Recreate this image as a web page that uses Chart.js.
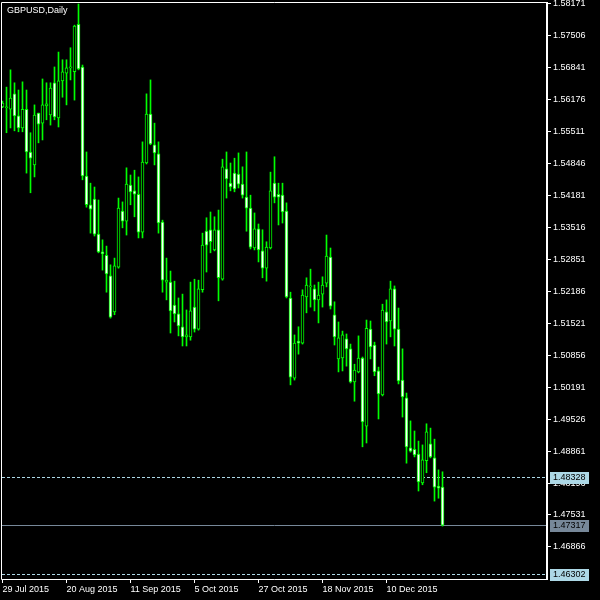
<!DOCTYPE html>
<html>
<head>
<meta charset="utf-8">
<title>GBPUSD,Daily</title>
<script src="https://cdn.jsdelivr.net/npm/chart.js@4.4.1/dist/chart.umd.min.js"></script>
<style>
  html, body { margin: 0; padding: 0; background: #000; }
  #wrap { width: 600px; height: 600px; }
</style>
</head>
<body>
<div id="wrap"><canvas id="chart" width="600" height="600"></canvas></div>
<script>
// GBPUSD daily candles, 29 Jul 2015 -> end of Dec 2015
const opens = [
  1.5603, 1.5601, 1.5598, 1.5630, 1.5584, 1.5559, 1.5598, 1.5509, 1.5482, 1.5590,
  1.5569, 1.5605, 1.5586, 1.5653, 1.5580, 1.5657, 1.5673, 1.5684, 1.5676, 1.5775,
  1.5686, 1.5459, 1.5399, 1.5411, 1.5338, 1.5301, 1.5294, 1.5251, 1.5176, 1.5269,
  1.5386, 1.5365, 1.5440, 1.5428, 1.5421, 1.5342, 1.5486, 1.5588, 1.5524, 1.5505,
  1.5363, 1.5238, 1.5238, 1.5190, 1.5172, 1.5145, 1.5124, 1.5124, 1.5186, 1.5140,
  1.5222, 1.5344, 1.5347, 1.5305, 1.5347, 1.5244, 1.5474, 1.5444, 1.5465, 1.5463,
  1.5442, 1.5415, 1.5392, 1.5309, 1.5349, 1.5303, 1.5267, 1.5309, 1.5444, 1.5421,
  1.5419, 1.5386, 1.5205, 1.5038, 1.5115, 1.5111, 1.5207, 1.5228, 1.5224, 1.5201,
  1.5213, 1.5236, 1.5290, 1.5170, 1.5078, 1.5080, 1.5120, 1.5099, 1.5030, 1.5051,
  1.5080, 1.4938, 1.5140, 1.5107, 1.5053, 1.5003, 1.5176, 1.5157, 1.5224, 1.5140,
  1.5034, 1.4997, 1.4893, 1.4890, 1.4880, 1.4820, 1.4866, 1.4901, 1.4872, 1.4813,
  1.4811
];
const highs = [
  1.5615, 1.5644, 1.5680, 1.5653, 1.5638, 1.5655, 1.5638, 1.5549, 1.5607, 1.5590,
  1.5661, 1.5653, 1.5653, 1.5686, 1.5717, 1.5701, 1.5701, 1.5726, 1.5773, 1.58171,
  1.5690, 1.5509, 1.5444, 1.5436, 1.5409, 1.5326, 1.5313, 1.5274, 1.5288, 1.5413,
  1.5405, 1.5476, 1.5461, 1.5471, 1.5457, 1.5530, 1.5630, 1.5659, 1.5569, 1.5530,
  1.5367, 1.5288, 1.5261, 1.5240, 1.5205, 1.5213, 1.5180, 1.5238, 1.5244, 1.5242,
  1.5340, 1.5372, 1.5384, 1.5374, 1.5388, 1.5494, 1.5509, 1.5486, 1.5496, 1.5507,
  1.5478, 1.5509, 1.5419, 1.5382, 1.5359, 1.5347, 1.5322, 1.5467, 1.5499, 1.5444,
  1.5444, 1.5403, 1.5217, 1.5128, 1.5145, 1.5222, 1.5247, 1.5265, 1.5232, 1.5238,
  1.5249, 1.5336, 1.5309, 1.5197, 1.5155, 1.5136, 1.5130, 1.5109, 1.5067, 1.5126,
  1.5082, 1.5159, 1.5157, 1.5113, 1.5061, 1.5192, 1.5201, 1.5240, 1.5230, 1.5184,
  1.5099, 1.5007, 1.4949, 1.4928, 1.4907, 1.4899, 1.4943, 1.4934, 1.4911, 1.4847,
  1.4843
];
const lows = [
  1.5601, 1.5549, 1.5559, 1.5553, 1.5551, 1.5551, 1.5465, 1.5424, 1.5457, 1.5528,
  1.5534, 1.5576, 1.5565, 1.5576, 1.5561, 1.5623, 1.5607, 1.5659, 1.5617, 1.5680,
  1.5451, 1.5394, 1.5340, 1.5334, 1.5299, 1.5263, 1.5217, 1.5163, 1.5170, 1.5267,
  1.5351, 1.5336, 1.5399, 1.5374, 1.5330, 1.5330, 1.5484, 1.5524, 1.5482, 1.5340,
  1.5217, 1.5201, 1.5132, 1.5155, 1.5126, 1.5105, 1.5105, 1.5117, 1.5134, 1.5138,
  1.5217, 1.5259, 1.5299, 1.5303, 1.5199, 1.5242, 1.5413, 1.5428, 1.5426, 1.5434,
  1.5413, 1.5344, 1.5307, 1.5305, 1.5280, 1.5247, 1.5240, 1.5307, 1.5403, 1.5357,
  1.5361, 1.5205, 1.5024, 1.5034, 1.5088, 1.5109, 1.5174, 1.5186, 1.5178, 1.5153,
  1.5186, 1.5228, 1.5182, 1.5107, 1.5051, 1.5053, 1.5063, 1.5028, 1.4990, 1.5049,
  1.4895, 1.4903, 1.5078, 1.5043, 1.4953, 1.5001, 1.5109, 1.5124, 1.5105, 1.5026,
  1.4957, 1.4861, 1.4884, 1.4874, 1.4803, 1.4816, 1.4841, 1.4872, 1.4782, 1.4788,
  1.4730
];
const closes = [
  1.5611, 1.5603, 1.5621, 1.5584, 1.5559, 1.5598, 1.5509, 1.5496, 1.5586, 1.5567,
  1.5607, 1.5609, 1.5642, 1.5582, 1.5657, 1.5676, 1.5684, 1.5686, 1.5771, 1.5682,
  1.5459, 1.5399, 1.5390, 1.5338, 1.5301, 1.5297, 1.5255, 1.5165, 1.5272, 1.5392,
  1.5365, 1.5442, 1.5426, 1.5421, 1.5342, 1.5488, 1.5588, 1.5526, 1.5507, 1.5361,
  1.5242, 1.5242, 1.5178, 1.5172, 1.5147, 1.5124, 1.5128, 1.5178, 1.5140, 1.5224,
  1.5315, 1.5315, 1.5322, 1.5347, 1.5247, 1.5478, 1.5453, 1.5436, 1.5432, 1.5442,
  1.5419, 1.5392, 1.5311, 1.5349, 1.5305, 1.5267, 1.5311, 1.5428, 1.5415, 1.5415,
  1.5384, 1.5207, 1.5040, 1.5111, 1.5111, 1.5211, 1.5232, 1.5230, 1.5201, 1.5211,
  1.5232, 1.5292, 1.5188, 1.5124, 1.5122, 1.5128, 1.5099, 1.5030, 1.5055, 1.5080,
  1.4947, 1.5142, 1.5103, 1.5051, 1.5005, 1.5180, 1.5155, 1.5224, 1.5140, 1.5032,
  1.4999, 1.4895, 1.4886, 1.4878, 1.4822, 1.4868, 1.4926, 1.4874, 1.4811, 1.4809,
  1.47317
];

// bottom axis: bar index of each date label
const xTickBars = [0, 16, 32, 48, 64, 80, 96];
const xTickLabels = ['29 Jul 2015', '20 Aug 2015', '11 Sep 2015', '5 Oct 2015',
                     '27 Oct 2015', '18 Nov 2015', '10 Dec 2015'];

// right axis price grid
const yTicks = [1.58171, 1.57506, 1.56841, 1.56176, 1.55511, 1.54846, 1.54181,
                1.53516, 1.52851, 1.52186, 1.51521, 1.50856, 1.50191, 1.49526,
                1.48861, 1.48196, 1.47531, 1.46866];

const title = 'GBPUSD,Daily';
const bidPrice = 1.47317;
const dashLevels = [1.48328, 1.46302];

const LIME = '#00ff00';
const FONT = 'Liberation Sans';

const bodies = opens.map((o, i) => ({ x: i, y: [o, closes[i]] }));
const wicks = lows.map((l, i) => ({ x: i, y: [l, highs[i]] }));
// bull candle = black, bear candle = white
const bodyColors = opens.map((o, i) =>
  closes[i] > o ? '#000000' : (closes[i] < o ? '#ffffff' : LIME));

// cadre, titre, lignes horizontales et étiquettes de prix
const mt4Plugin = {
  id: 'mt4',
  beforeDatasetsDraw(chart) {
    const ctx = chart.ctx, a = chart.chartArea, y = chart.scales.y;
    ctx.save();
    ctx.lineWidth = 1;
    ctx.strokeStyle = '#add8e6';
    ctx.setLineDash([3, 2]);
    dashLevels.forEach(v => {
      const py = Math.round(y.getPixelForValue(v)) + 0.5;
      ctx.beginPath();
      ctx.moveTo(a.left, py);
      ctx.lineTo(a.right, py);
      ctx.stroke();
    });
    ctx.setLineDash([]);
    ctx.strokeStyle = '#778899';
    const by = Math.round(y.getPixelForValue(bidPrice)) + 0.5;
    ctx.beginPath();
    ctx.moveTo(a.left, by);
    ctx.lineTo(a.right, by);
    ctx.stroke();
    ctx.restore();
  },
  afterDraw(chart) {
    const ctx = chart.ctx, a = chart.chartArea, y = chart.scales.y;
    ctx.save();
    // frame
    ctx.strokeStyle = '#ffffff';
    ctx.lineWidth = 1;
    ctx.beginPath();
    ctx.moveTo(a.left - 0.5, a.bottom + 0.5);
    ctx.lineTo(a.left - 0.5, a.top + 0.5);
    ctx.lineTo(a.right, a.top + 0.5);
    ctx.moveTo(a.left - 0.5, a.bottom + 0.5);
    ctx.lineTo(a.right, a.bottom + 0.5);
    ctx.stroke();
    ctx.lineWidth = 2;
    ctx.beginPath();
    ctx.moveTo(a.right, a.top);
    ctx.lineTo(a.right, a.bottom + 1);
    ctx.stroke();

    // title
    ctx.fillStyle = '#ffffff';
    ctx.font = '9px "' + FONT + '"';
    ctx.textBaseline = 'middle';
    ctx.textAlign = 'left';
    ctx.fillText(title, a.left + 5, a.top + 9);

    // price labels on the right axis
    const boxes = [[dashLevels[0], '#add8e6'], [bidPrice, '#778899'], [dashLevels[1], '#add8e6']];
    boxes.forEach(([v, col]) => {
      const py = Math.round(y.getPixelForValue(v));
      ctx.fillStyle = col;
      ctx.fillRect(a.right + 3, py - 5, 39, 12);
      ctx.fillStyle = '#000000';
      ctx.fillText(v.toFixed(5), a.right + 6, py + 1);
    });
    ctx.restore();
  }
};

window.addEventListener('DOMContentLoaded', function () {
  const ctx = document.getElementById('chart').getContext('2d');

  new Chart(ctx, {
    type: 'bar',
    data: {
      datasets: [{
        data: bodies,
        backgroundColor: bodyColors,
        borderColor: LIME,
        borderWidth: 1,
        borderSkipped: false,
        barThickness: 3,
        minBarLength: 1,
        grouped: false
      }, {
        data: wicks,
        backgroundColor: LIME,
        borderWidth: 0,
        barThickness: 1,
        grouped: false
      }]
    },
    options: {
      responsive: false,
      animation: false,
      events: [],
      layout: { padding: { left: 2, top: 2, right: 0, bottom: 0 }, autoPadding: false },
      plugins: {
        legend: { display: false },
        tooltip: { enabled: false }
      },
      scales: {
        x: {
          type: 'linear',
          min: -0.125,
          max: 136.125,
          offset: false,
          afterBuildTicks: s => { s.ticks = xTickBars.map(v => ({ value: v })); },
          afterFit: s => { s.height = 21; s.paddingLeft = 0; s.paddingRight = 0; },
          grid: { offset: false, drawOnChartArea: false, drawTicks: true, tickLength: 4, color: '#ffffff' },
          border: { display: false },
          ticks: {
            color: '#ffffff',
            font: { family: FONT, size: 9 },
            align: 'start',
            padding: 1,
            maxRotation: 0,
            autoSkip: false,
            callback: (v, i) => xTickLabels[i]
          }
        },
        y: {
          type: 'linear',
          position: 'right',
          min: 1.461979,
          max: 1.582126,
          afterBuildTicks: s => { s.ticks = yTicks.map(v => ({ value: v })); },
          afterFit: s => { s.width = 53; s.paddingTop = 0; s.paddingBottom = 0; },
          grid: { drawOnChartArea: false, drawTicks: true, tickLength: 4, color: '#ffffff' },
          border: { display: false },
          ticks: {
            color: '#ffffff',
            font: { family: FONT, size: 9 },
            padding: 2,
            autoSkip: false,
            callback: v => v.toFixed(5)
          }
        }
      }
    },
    plugins: [mt4Plugin]
  });
});
</script>
</body>
</html>
